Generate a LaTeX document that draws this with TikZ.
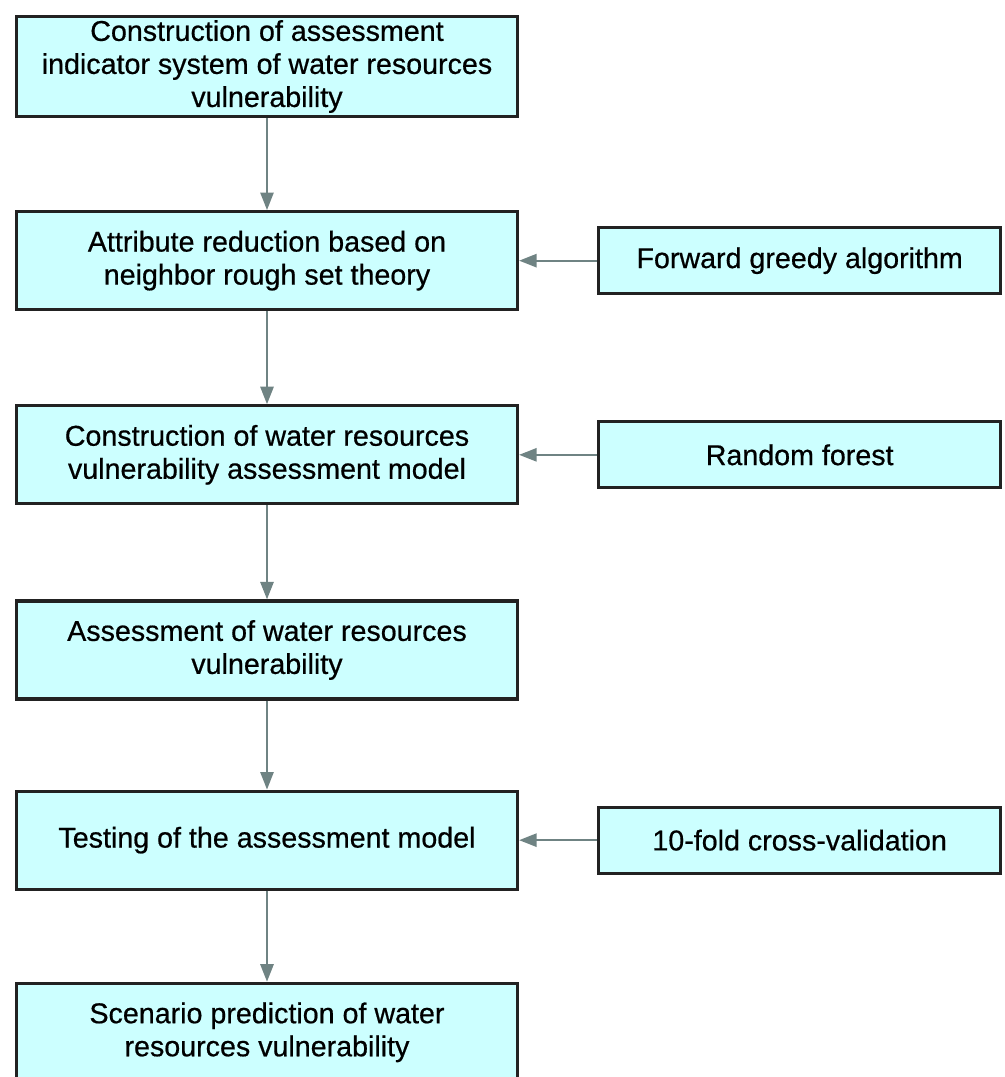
\documentclass[tikz,border=0pt]{standalone}
\usepackage{fontspec}
\setmainfont{Liberation Sans}[FakeBold=0.6]
\usepackage{xcolor}
\usetikzlibrary{arrows.meta,positioning}
\definecolor{boxfill}{HTML}{CCFFFF}
\definecolor{boxline}{HTML}{222222}
\definecolor{arrowgray}{HTML}{6F8383}

\begin{document}
\begin{tikzpicture}[
  node distance=1.84cm and 1.56cm,
  every node/.style={font=\fontsize{16.3}{18.8}\selectfont, align=center},
  procbox/.style={rectangle, minimum width=10.02cm, minimum height=1.96cm, inner sep=2pt, draw=boxline, line width=1.8pt, fill=boxfill},
  aidbox/.style={rectangle, minimum width=8.04cm, minimum height=1.32cm, inner sep=2pt, draw=boxline, line width=1.8pt, fill=boxfill},
  edge/.style={draw=arrowgray, line width=1.3pt, -{Triangle[length=10pt,width=7.5pt]}}
]
  \useasboundingbox (0,0) rectangle (20.08,-21.54);
  \node[procbox, minimum height=2.0cm] (indsys) at (5.34,-1.33) {Construction of assessment\\indicator system of water resources\\vulnerability};
  \node[procbox, below=of indsys] (reduce) {Attribute reduction based on\\neighbor rough set theory};
  \node[procbox, below=1.86cm of reduce] (model) {Construction of water resources\\vulnerability assessment model};
  \node[procbox, below=1.88cm of model] (assess) {Assessment of water resources\\vulnerability};
  \node[procbox, below=1.78cm of assess] (testing) {Testing of the assessment model};
  \node[procbox, below=1.82cm of testing] (predict) {Scenario prediction of water\\resources vulnerability};

  \node[aidbox, right=of reduce] (greedy) {Forward greedy algorithm};
  \node[aidbox, right=of model] (forest) {Random forest};
  \node[aidbox, right=of testing] (cv) {10-fold cross-validation};

  \draw[edge] (indsys) -- (reduce);
  \draw[edge] (reduce) -- (model);
  \draw[edge] (model) -- (assess);
  \draw[edge] (assess) -- (testing);
  \draw[edge] (testing) -- (predict);
  \draw[edge] (greedy) -- (reduce);
  \draw[edge] (forest) -- (model);
  \draw[edge] (cv) -- (testing);
\end{tikzpicture}
\end{document}
